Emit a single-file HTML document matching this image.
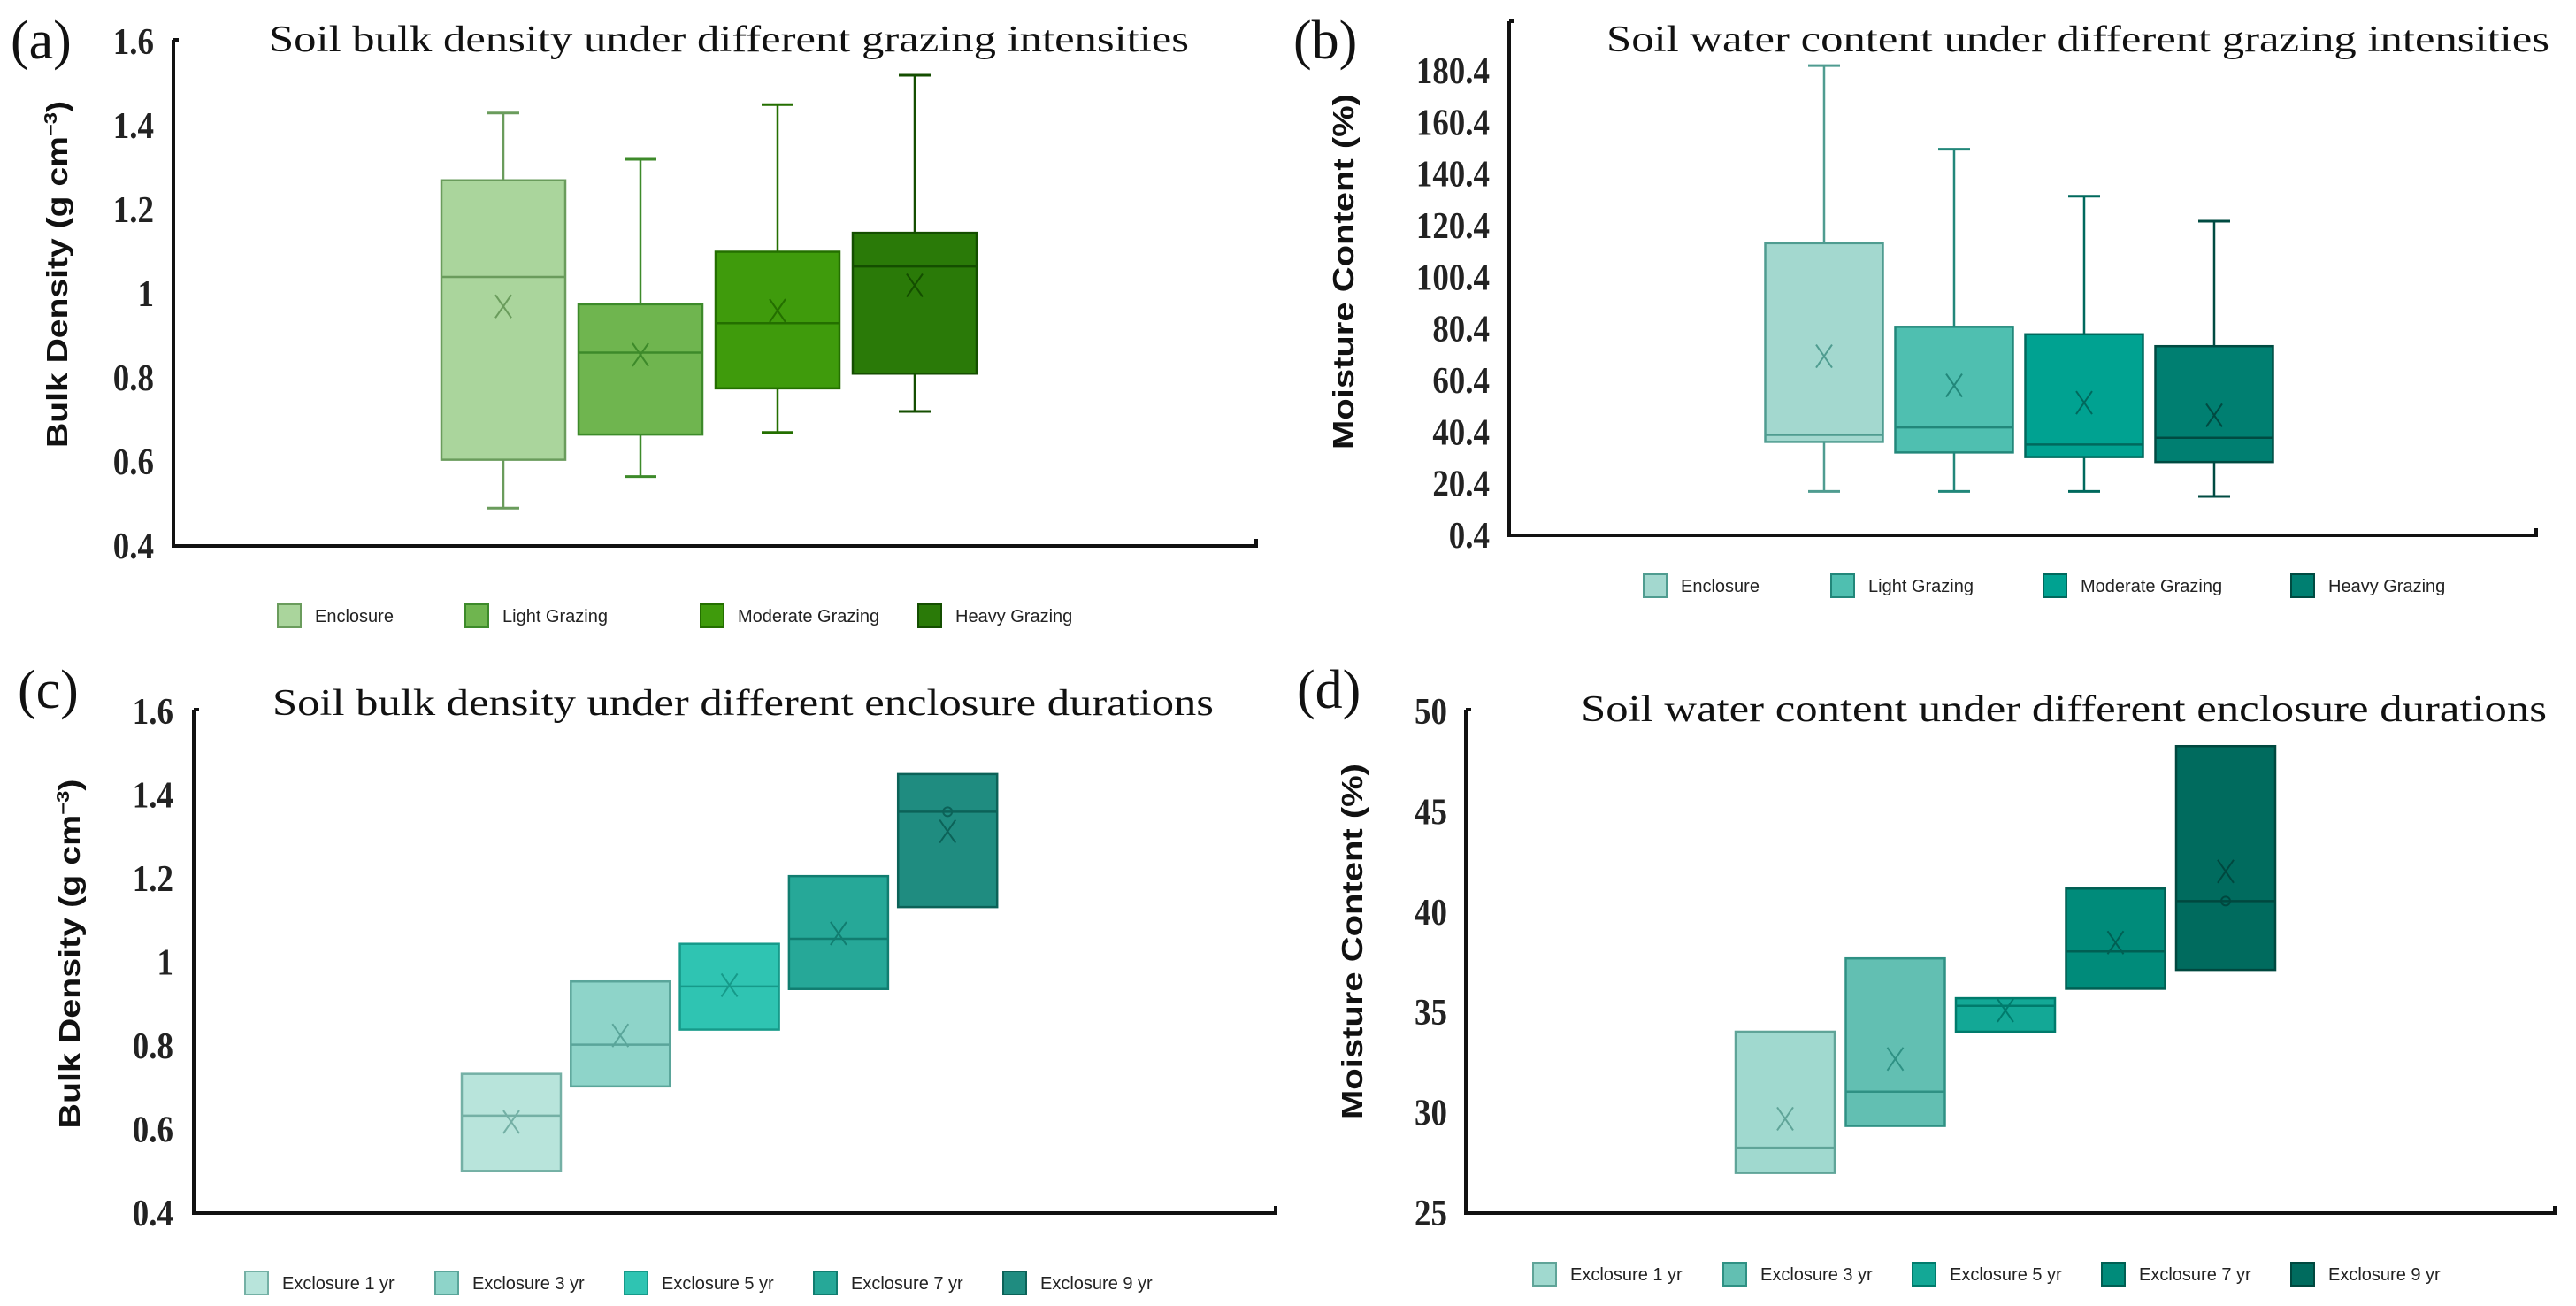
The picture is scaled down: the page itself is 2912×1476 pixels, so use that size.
<!DOCTYPE html>
<html><head><meta charset="utf-8"><style>
html,body{margin:0;padding:0;background:#fff;}
svg{display:block;}
.tick{font-family:"Liberation Serif",serif;font-weight:bold;font-size:42px;fill:#222;}
.title{font-family:"Liberation Serif",serif;font-size:42px;fill:#111;}
.plabel{font-family:"Liberation Serif",serif;font-size:62px;fill:#111;}
.ylab{font-family:"Liberation Sans",sans-serif;font-weight:bold;font-size:33px;fill:#111;}
.leg{font-family:"Liberation Sans Narrow","Liberation Sans",sans-serif;font-size:20px;fill:#222;}
</style></head><body>
<svg id="fig" width="2912" height="1476" viewBox="0 0 2912 1476" xmlns="http://www.w3.org/2000/svg"></svg>
<script>
// ---- Panel (a) data ----
const aCategories=["Enclosure","Light Grazing","Moderate Grazing","Heavy Grazing"];
const aWhiskerLow=[0.49,0.565,0.67,0.72];
const aQ1=[0.605,0.665,0.775,0.81];
const aMedian=[1.04,0.86,0.93,1.065];
const aQ3=[1.27,0.975,1.10,1.145];
const aWhiskerHigh=[1.43,1.32,1.45,1.52];
const aMean=[0.97,0.855,0.96,1.02];
const aTicks=["0.4","0.6","0.8","1","1.2","1.4","1.6"];
// ---- Panel (b) data ----
const bCategories=["Enclosure","Light Grazing","Moderate Grazing","Heavy Grazing"];
const bWhiskerLow=[17.4,17.4,17.4,15.5];
const bQ1=[36.6,32.5,30.7,28.8];
const bMedian=[39.3,42.2,35.6,38.2];
const bQ3=[113.6,81.2,78.3,73.7];
const bWhiskerHigh=[182.4,150,131.8,122.1];
const bMean=[69.8,58.5,51.8,46.9];
const bTicks=["0.4","20.4","40.4","60.4","80.4","100.4","120.4","140.4","160.4","180.4"];
// ---- Panel (c) data ----
const cCategories=["Exclosure 1 yr","Exclosure 3 yr","Exclosure 5 yr","Exclosure 7 yr","Exclosure 9 yr"];
const cQ1=[0.501,0.703,0.839,0.936,1.132];
const cMedian=[0.633,0.803,0.942,1.056,1.36];
const cQ3=[0.733,0.954,1.044,1.206,1.45];
const cMean=[0.618,0.825,0.945,1.069,1.313];
const cTicks=["0.4","0.6","0.8","1","1.2","1.4","1.6"];
// ---- Panel (d) data ----
const dCategories=["Exclosure 1 yr","Exclosure 3 yr","Exclosure 5 yr","Exclosure 7 yr","Exclosure 9 yr"];
const dQ1=[27.0,29.34,34.04,36.18,37.12];
const dMedian=[28.26,31.05,35.33,38.04,40.55];
const dQ3=[34.04,37.69,35.71,41.17,48.27];
const dMean=[29.7,32.68,35.1,38.48,42.03];
const dTicks=["25","30","35","40","45","50"];

const NS="http://www.w3.org/2000/svg";
const svg=document.getElementById('fig');
function mk(tag,attrs,parent,text){const e=document.createElementNS(NS,tag);for(const k in attrs)e.setAttribute(k,attrs[k]);if(text!==undefined)e.textContent=text;(parent||svg).appendChild(e);return e;}

function panel(p){
  const g=mk('g',{});
  
  
  const y=v=>p.y0-(v-p.vmin)/(p.vmax-p.vmin)*(p.y0-p.y1);
  const x=i=>p.xc0+i*p.step;
  const ax=mk('path',{d:`M${p.ax},${p.axTop} L${p.ax},${p.y0} L${p.axRight},${p.y0} L${p.axRight},${p.y0-8} M${p.ax},${p.axTop} L${p.ax+6},${p.axTop}`,stroke:'#111','stroke-width':4,fill:'none'},g);
  
  
  p.ticks.forEach(t=>{const v=parseFloat(t);
    const tl=mk('text',{x:p.tickX,y:y(v)+14,'text-anchor':'end',class:'tick',transform:`translate(${p.tickX},0) scale(0.88,1) translate(${-p.tickX},0)`},g,t);
    
    
  });
  const ti=mk('text',{x:p.titleX,y:p.titleY,class:'title',textLength:p.titleW,lengthAdjust:'spacingAndGlyphs'},g,p.title);
  
  
  const pl=mk('text',{x:p.plX,y:p.plY,class:'plabel'},g,p.plabel);
  
  
  const yl=mk('text',{x:0,y:0,class:'ylab','text-anchor':'middle',transform:`translate(${p.ylX},${p.ylY}) rotate(-90)`,textLength:p.ylW,lengthAdjust:'spacingAndGlyphs'},g);
  
  
  if(p.sup){yl.appendChild(document.createTextNode('Bulk Density (g cm'));mk('tspan',{dy:-12,'font-size':20},yl,'\u22123');mk('tspan',{dy:12},yl,')');}
  else yl.textContent=p.ylabel;
  p.cats.forEach((c,i)=>{
    const cx=x(i),hw=p.bw/2;
    const bg=mk('g',{},g);
    
    
    if(p.wl){
      mk('line',{x1:cx,x2:cx,y1:y(p.wh[i]),y2:y(p.q3[i]),stroke:p.edge[i],'stroke-width':2.5},bg);
      mk('line',{x1:cx,x2:cx,y1:y(p.q1[i]),y2:y(p.wl[i]),stroke:p.edge[i],'stroke-width':2.5},bg);
      mk('line',{x1:cx-18,x2:cx+18,y1:y(p.wh[i]),y2:y(p.wh[i]),stroke:p.edge[i],'stroke-width':3},bg);
      mk('line',{x1:cx-18,x2:cx+18,y1:y(p.wl[i]),y2:y(p.wl[i]),stroke:p.edge[i],'stroke-width':3},bg);
    }
    mk('rect',{x:cx-hw,y:y(p.q3[i]),width:p.bw,height:y(p.q1[i])-y(p.q3[i]),fill:p.fill[i],stroke:p.edge[i],'stroke-width':2.5},bg);
    mk('line',{x1:cx-hw,x2:cx+hw,y1:y(p.med[i]),y2:y(p.med[i]),stroke:p.edge[i],'stroke-width':2.5},bg);
    const my=y(p.mean[i]);
    mk('path',{d:`M${cx-9},${my-13} L${cx+9},${my+13} M${cx+9},${my-13} L${cx-9},${my+13}`,stroke:p.edge[i],'stroke-width':2,fill:'none'},bg);
    const lg=mk('g',{},g);
    
    
    mk('rect',{x:p.legX[i],y:p.legY-13,width:26,height:26,fill:p.fill[i],stroke:p.edge[i],'stroke-width':2},lg);
    mk('text',{x:p.legX[i]+42,y:p.legY+7,class:'leg'},lg,c);
  });
  if(p.circ){const ci=p.cats.length-1;mk('circle',{cx:x(ci),cy:y(p.med[ci]),r:5,fill:'none',stroke:p.edge[ci],'stroke-width':2},g);}
}

panel({name:'panel-a',plabel:'(a)',plX:12,plY:66,title:'Soil bulk density under different grazing intensities',titleX:304,titleY:58,titleW:1040,
  vmin:0.4,vmax:1.6,y0:617,y1:47,ax:196,axTop:45,axRight:1420,tickX:174,ticks:aTicks,
  ylX:76,ylY:310,ylW:392,sup:true,
  cats:aCategories,xc0:569,step:155,bw:140,wl:aWhiskerLow,q1:aQ1,med:aMedian,q3:aQ3,wh:aWhiskerHigh,mean:aMean,
  fill:['#aad59c','#6fb54f','#3f9b0c','#2a7a08'],edge:['#6a9c5c','#3d8a2a','#246f00','#144e00'],
  legX:[314,526,792,1038],legY:696});
panel({name:'panel-b',plabel:'(b)',plX:1462,plY:66,title:'Soil water content under different grazing intensities',titleX:1816,titleY:58,titleW:1066,
  vmin:0.4,vmax:180.4,y0:605,y1:80,ax:1706,axTop:24,axRight:2867,tickX:1684,ticks:bTicks,
  ylX:1530,ylY:307,ylW:402,ylabel:'Moisture Content (%)',
  cats:bCategories,xc0:2062,step:147,bw:133,wl:bWhiskerLow,q1:bQ1,med:bMedian,q3:bQ3,wh:bWhiskerHigh,mean:bMean,
  fill:['#a3d8cf','#4fbfb0','#00a291','#007f71'],edge:['#4f9c90','#22877a','#00695d','#004b42'],
  legX:[1858,2070,2310,2590],legY:662});
panel({name:'panel-c',plabel:'(c)',plX:20,plY:800,title:'Soil bulk density under different enclosure durations',titleX:308,titleY:808,titleW:1064,
  vmin:0.4,vmax:1.6,y0:1371,y1:804,ax:219,axTop:802,axRight:1442,tickX:196,ticks:cTicks,
  ylX:90,ylY:1078,ylW:395,sup:true,
  cats:cCategories,xc0:578,step:123.3,bw:112,wl:null,q1:cQ1,med:cMedian,q3:cQ3,mean:cMean,circ:true,
  fill:['#b8e4db','#8ed4c9','#2fc4b2','#26a898','#1f8c80'],edge:['#74b0a5','#5aa59a','#169a8a','#117d70','#0c6258'],
  legX:[277,492,706,920,1134],legY:1450});
panel({name:'panel-d',plabel:'(d)',plX:1466,plY:800,title:'Soil water content under different enclosure durations',titleX:1787,titleY:815,titleW:1092,
  vmin:25,vmax:50,y0:1371,y1:804,ax:1657,axTop:802,axRight:2888,tickX:1636,ticks:dTicks,
  ylX:1540,ylY:1064,ylW:402,ylabel:'Moisture Content (%)',
  cats:dCategories,xc0:2018,step:124.5,bw:112,wl:null,q1:dQ1,med:dMedian,q3:dQ3,mean:dMean,circ:true,
  fill:['#a0d9cf','#62bfb2','#13a896','#008b7a','#006b5e'],edge:['#5fa498','#2f9184','#007b6c','#005f53','#00483f'],
  legX:[1733,1948,2162,2376,2590],legY:1440});
</script>
</body></html>
